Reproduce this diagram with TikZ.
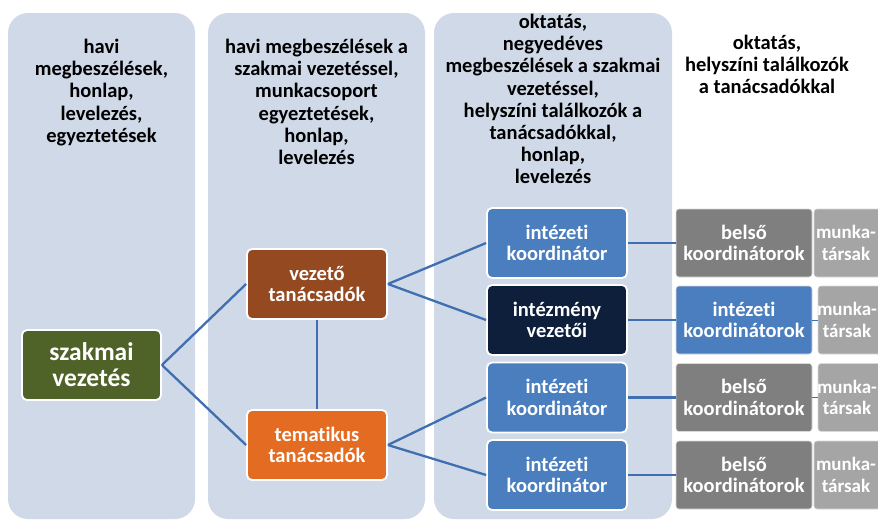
\documentclass[tikz,border=0pt]{standalone}
\usepackage{fontspec}
\setmainfont{Carlito}[RawFeature=-liga]
\definecolor{colbg}{HTML}{D0D9E8}
\definecolor{leadgreen}{HTML}{4F6228}
\definecolor{leadbrown}{HTML}{954921}
\definecolor{themorange}{HTML}{E46C22}
\definecolor{coordblue}{HTML}{4A7EBF}
\definecolor{headnavy}{HTML}{0E1F3C}
\definecolor{darkgrey}{HTML}{7F7F7F}
\definecolor{lightgrey}{HTML}{A5A5A5}
\definecolor{linkblue}{HTML}{3F6FB1}
\begin{document}
\begin{tikzpicture}[x=1pt,y=-1pt,
  lane/.style={fill=colbg, rounded corners=20pt},
  lanetext/.style={anchor=north, align=center, inner sep=0pt,
    font=\bfseries\fontsize{20.5}{22.2}\selectfont, text=black},
  unit/.style={draw=white, line width=1.8pt, rounded corners=5pt, text=white,
    align=center, inner sep=0pt, minimum width=140pt, minimum height=70pt,
    font=\bfseries\fontsize{20.5}{21.5}\selectfont},
  side/.style={draw=white!85!black, line width=0.6pt, rounded corners=3pt, text=white,
    align=center, inner sep=0pt, minimum height=68pt,
    font=\bfseries\fontsize{20.5}{21.5}\selectfont},
  staff/.style={text=white, align=center, inner sep=0pt,
    font=\bfseries\fontsize{19}{21.5}\selectfont},
  link/.style={draw=linkblue, line width=2.3pt}]
\useasboundingbox (0,0) rectangle (878,520);
\clip (0,0) rectangle (878,520);

% background lanes
\path[lane] (8,13) rectangle (195,519);
\path[lane] (208,13) rectangle (425,519);
\path[lane] (434,13) rectangle (672,519);

% lane headings
\node[lanetext] (h1) at (101.5,39) {havi\\megbeszélések,\\honlap,\\levelezés,\\egyeztetések};
\node[lanetext] (h2) at (316.5,39) {havi megbeszélések a\\szakmai vezetéssel,\\munkacsoport\\egyeztetések,\\honlap,\\levelezés};
\node[lanetext] (h3) at (553,14) {oktatás,\\negyedéves\\megbeszélések a szakmai\\vezetéssel,\\helyszíni találkozók a\\tanácsadókkal,\\honlap,\\levelezés};
\node[lanetext] (h4) at (767,35) {oktatás,\\helyszíni találkozók\\a tanácsadókkal};

% organisation units
\node[unit, fill=leadgreen, minimum width=139pt, font=\bfseries\fontsize{25.5}{26}\selectfont] (lead) at (91.5,365) {szakmai\\vezetés};
\node[unit, fill=leadbrown] (senior) at (317,284) {vezető\\tanácsadók};
\node[unit, fill=themorange] (thematic) at (317,445) {tematikus\\tanácsadók};
\node[unit, fill=coordblue] (ic1) at (557,243) {intézeti\\koordinátor};
\node[unit, fill=headnavy] (heads) at (557,320) {intézmény\\vezetői};
\node[unit, fill=coordblue] (ic2) at (557,397.5) {intézeti\\koordinátor};
\node[unit, fill=coordblue] (ic3) at (557,475) {intézeti\\koordinátor};

% local level
\node[side, fill=darkgrey, minimum width=136pt] (ib1) at (744,243) {belső\\koordinátorok};
\node[side, fill=coordblue, minimum width=136pt] (ib2) at (744,320) {intézeti\\koordinátorok};
\node[side, fill=darkgrey, minimum width=136pt] (ib3) at (744,397.5) {belső\\koordinátorok};
\node[side, fill=darkgrey, minimum width=136pt] (ib4) at (744,475) {belső\\koordinátorok};
\node[side, fill=lightgrey, minimum width=70pt] (st1) at (849,243) {};
\node[side, fill=lightgrey, minimum width=66pt] (st2) at (851,320) {};
\node[side, fill=lightgrey, minimum width=66pt] (st3) at (851,397.5) {};
\node[side, fill=lightgrey, minimum width=70pt] (st4) at (849,475) {};
\node[staff] (st1text) at (846,243) {munka-\\társak};
\node[staff] (st2text) at (847,320) {munka-\\társak};
\node[staff] (st3text) at (847,397.5) {munka-\\társak};
\node[staff] (st4text) at (846,475) {munka-\\társak};

% connectors
\draw[link] (lead.east) -- (senior.west);
\draw[link] (lead.east) -- (thematic.west);
\draw[link] (senior.south) -- (thematic.north);
\draw[link] (senior.east) -- (ic1.west);
\draw[link] (senior.east) -- (heads.west);
\draw[link] (thematic.east) -- (ic2.west);
\draw[link] (thematic.east) -- (ic3.west);
\draw[link] (ic1.east) -- (ib1.west);
\draw[link] (heads.east) -- (ib2.west);
\draw[link] (ic2.east) -- (ib3.west);
\draw[link] (ic3.east) -- (ib4.west);
\draw[link, line width=1pt] (ib2.east) -- (st2.west);
\draw[link, line width=1pt] (ib3.east) -- (st3.west);
\end{tikzpicture}
\end{document}
